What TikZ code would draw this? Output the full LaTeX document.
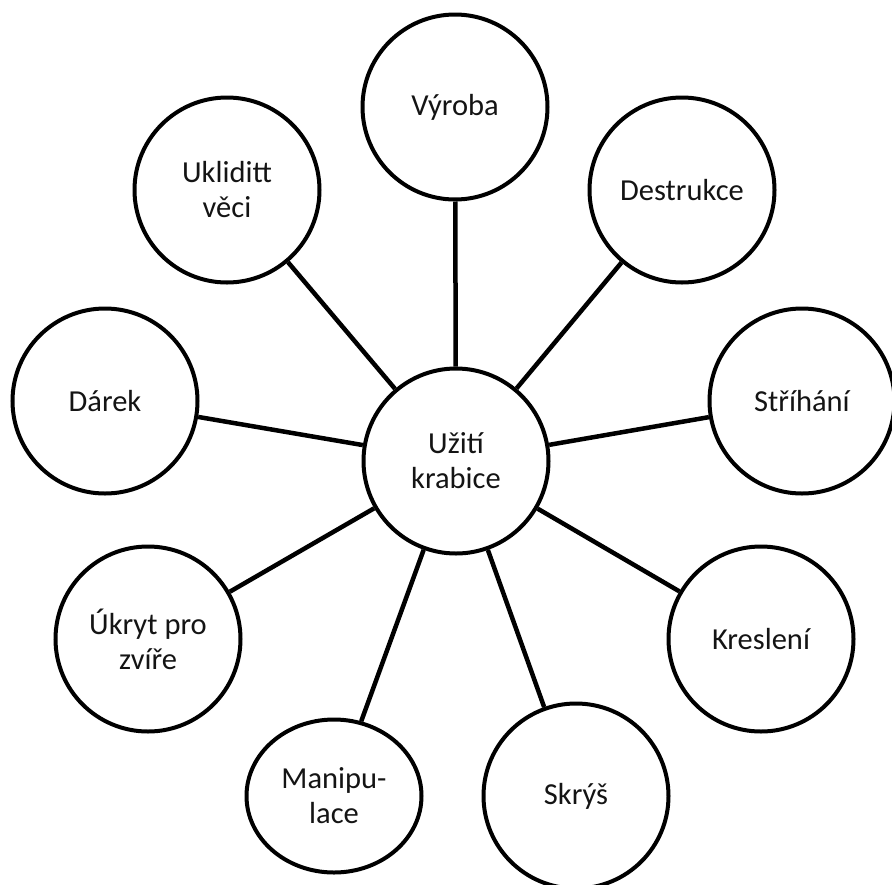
\documentclass[tikz,border=0pt]{standalone}
\usepackage{fontspec}
\setmainfont{Carlito}
\usetikzlibrary{shapes.geometric}
\definecolor{ink}{RGB}{20,20,20}
\tikzset{
  bubble/.style={circle, draw=black, line width=4pt, fill=white, minimum size=185pt, inner sep=0pt, align=center, text=ink, font=\fontsize{30.5}{35}\selectfont},
  oval/.style={ellipse, draw=black, line width=4pt, fill=white, minimum width=175pt, minimum height=153pt, inner sep=0pt, align=center, text=ink, font=\fontsize{30.5}{35}\selectfont},
  link/.style={draw=black, line width=4.5pt}
}
\begin{document}
\begin{tikzpicture}[x=1pt,y=-1pt]
\useasboundingbox (0,0) rectangle (892,884);
\clip (0,0) rectangle (892,884);
\fill[white] (0,0) rectangle (892,884);
\node[bubble] (c) at (456,461) {Užití\\krabice};
\node[bubble] (vyr) at (455,107) {Výroba};
\node[bubble] (des) at (682,190) {Destrukce};
\node[bubble] (str) at (802,401) {Stříhání};
\node[bubble] (kre) at (761,639) {Kreslení};
\node[bubble] (skr) at (576,796) {Skrýš};
\node[oval] (man) at (334,796) {Manipu-\\lace};
\node[bubble] (ukr) at (148,639) {Úkryt pro\\zvíře};
\node[bubble] (dar) at (105,401) {Dárek};
\node[bubble] (ukl) at (227,190) {Ukliditt\\věci};
\foreach \n in {vyr,des,str,kre,skr,man,ukr,dar,ukl}
  \draw[link] (c) -- (\n);
\end{tikzpicture}
\end{document}
